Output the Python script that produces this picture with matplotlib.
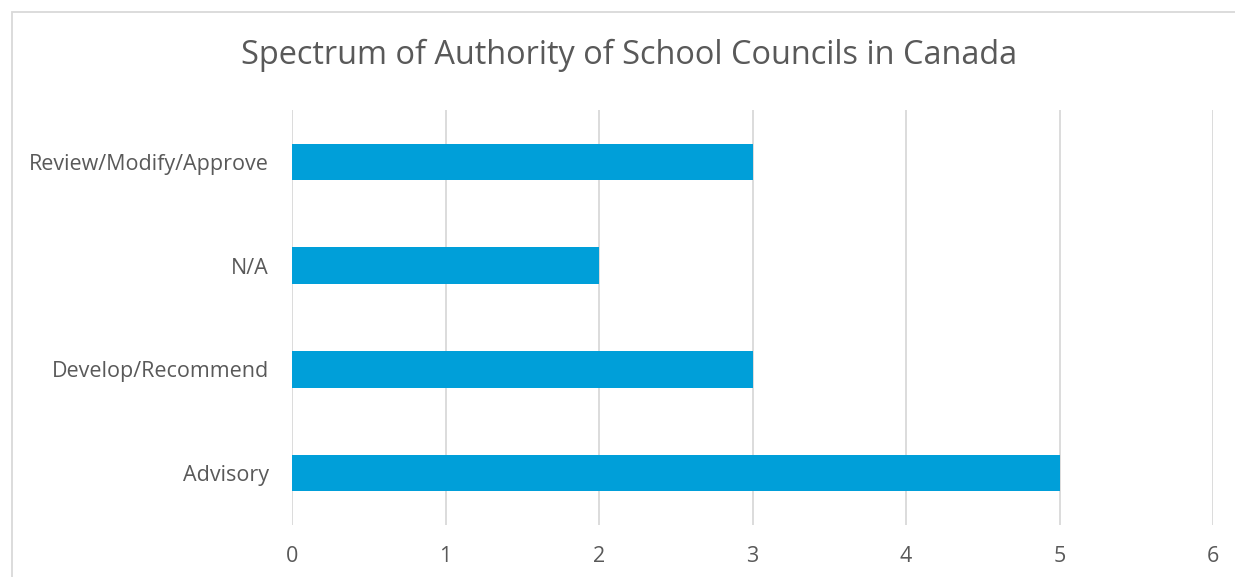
import matplotlib.pyplot as plt
from matplotlib.patches import Rectangle

categories = ['Advisory', 'Develop/Recommend', 'N/A', 'Review/Modify/Approve']
values = [5, 3, 2, 3]
title = 'Spectrum of Authority of School Councils in Canada'

text_color = '#595959'
grid_color = '#d9d9d9'
bar_color = '#009fd9'

plt.rcParams['font.family'] = ['Open Sans', 'DejaVu Sans']

fig = plt.figure(figsize=(12.35, 5.77), dpi=100)
ax = fig.add_axes([292 / 1235, 1 - 525 / 577, (1213 - 292) / 1235, (525 - 110) / 577])

# outer chart border (cropped at right and bottom in the original)
fig.patches.append(Rectangle((11.5 / 1235, -0.1), 1.2, 1 - 11.5 / 577 + 0.1,
                             transform=fig.transFigure, fill=False,
                             edgecolor=grid_color, linewidth=1.3))

y = range(len(categories))
ax.barh(y, values, height=0.35, color=bar_color, zorder=3)

ax.set_xlim(0, 6)
ax.set_ylim(-0.5, len(categories) - 0.5)
ax.set_xticks(range(0, 7))
ax.set_yticks(list(y))
ax.set_yticklabels(categories)
ax.grid(axis='x', color=grid_color, linewidth=1.3, zorder=0)
ax.set_axisbelow(True)
for s in ax.spines.values():
    s.set_visible(False)
ax.tick_params(axis='both', length=0, labelsize=15.5, labelcolor=text_color)
ax.tick_params(axis='x', pad=15)
ax.tick_params(axis='y', pad=16.5)

fig.text(629 / 1235, 1 - 55 / 577, title, ha='center', va='center',
         fontsize=23.4, color=text_color)

fig.savefig('out.png', dpi=100)
